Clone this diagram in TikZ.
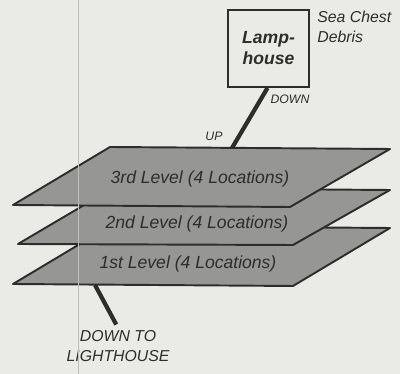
\documentclass[tikz,border=0pt]{standalone}
\usepackage{fontspec}
\setmainfont{Liberation Sans}
\definecolor{paper}{RGB}{234,234,230}
\definecolor{slab}{RGB}{150,150,148}
\definecolor{ink}{RGB}{45,45,45}
\tikzset{
    level/.style={fill=slab, draw=ink, line width=1.1pt, line join=round},
    hand/.style={font=\itshape, text=ink},
    caps/.style={font=\itshape\scriptsize, text=ink, align=left},
    stair/.style={draw=ink, line width=2.4pt}
}
\begin{document}
\begin{tikzpicture}[x=0.02cm, y=-0.02cm]
        \fill [paper] (0,0) rectangle (400,374);
        \useasboundingbox (0,0) rectangle (400,374);
        \draw [level] (13,284) -- (293,286) -- (390,228) -- (110,226) -- cycle;
        \draw [level] (18,244) -- (293,245) -- (390,190) -- (113,188) -- cycle;
        \draw [level] (13,205) -- (290,207) -- (390,149) -- (110,147) -- cycle;
        \node [hand] (third) at (200,179) {3rd Level (4 Locations)};
        \node [hand] (second) at (197,224) {2nd Level (4 Locations)};
        \node [hand] (first) at (188,264) {1st Level (4 Locations)};
        \node [draw=ink, line width=1.1pt, minimum width=1.62cm, minimum height=1.54cm,
            hand, font=\itshape\bfseries, align=center] (lamp) at (268.5,48.5) {Lamp-\\house};
        \node [hand, anchor=north west, align=left, font=\itshape\small, inner sep=0pt] (debris) at (317,11) {Sea Chest\\Debris};
        \coordinate (up) at (232,148);
        \draw [stair] (lamp.south) ++(-1,0) -- (up);
        \node [caps] (downlbl) at (290,99) {DOWN};
        \node [caps] (uplbl) at (214,136) {UP};
        \coordinate (low) at (95,285);
        \node [caps, align=center, font=\itshape\small] (lighthouse) at (118,346) {DOWN TO\\LIGHTHOUSE};
        \draw [stair] (low) -- ([xshift=-1pt]lighthouse.north);
        \draw [black!25, line width=0.5pt] (78,0) -- (78,374);
    \end{tikzpicture}
\end{document}
